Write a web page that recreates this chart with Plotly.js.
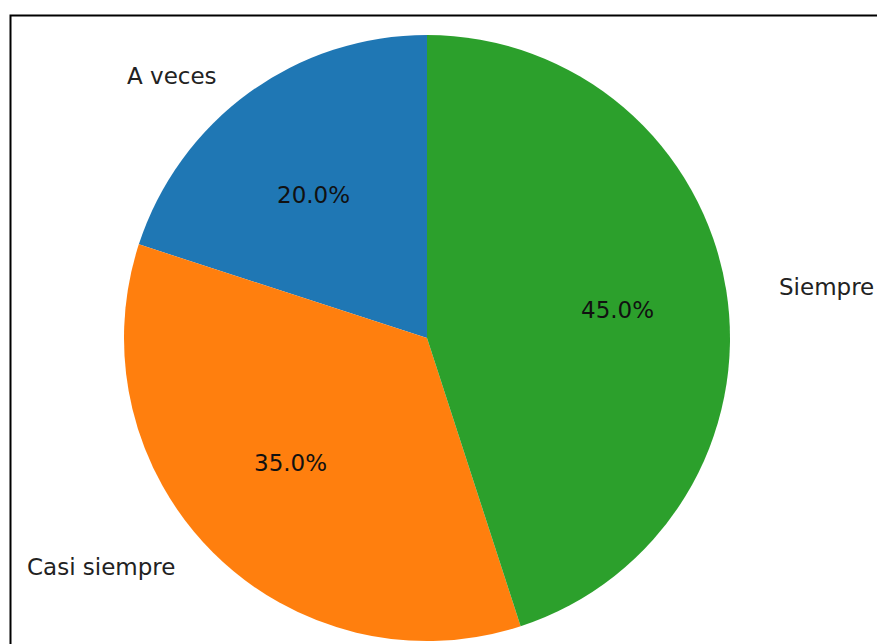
<!DOCTYPE html>
<html>
<head>
<meta charset="utf-8">
<script src="https://cdn.plot.ly/plotly-3.0.1.min.js"></script>
<style>html,body{margin:0;padding:0;background:#fff;}#chart{width:877px;height:644px;}</style>
</head>
<body>
<div id="chart"></div>
<script>
// Data
const labels = ['A veces', 'Casi siempre', 'Siempre'];
const values = [20, 35, 45];
const colors = ['#1f77b4', '#ff7f0e', '#2ca02c'];

// Geometry (pixels)
const W = 877, H = 644;
const cx = 427, cy = 338;      // pie centre
const r = 303;                 // drawn pie radius
const rx = 322, ry = 294;      // text placement radii (matplotlib style)

const total = values.reduce((a, b) => a + b, 0);
const annotations = [];
let cum = 0;
values.forEach((v, i) => {
  const frac = v / total;
  const mid = (90 + 360 * (cum + frac / 2)) * Math.PI / 180;
  cum += frac;
  const c = Math.cos(mid), s = Math.sin(mid);
  annotations.push({
    x: (cx + 0.6 * rx * c) / W, y: 1 - (cy - 0.6 * ry * s) / H,
    xref: 'paper', yref: 'paper', showarrow: false,
    text: (100 * frac).toFixed(1) + '%',
    xanchor: 'center', yanchor: 'middle',
    font: {family: 'DejaVu Sans', size: 23, color: '#111'}
  });
  annotations.push({
    x: (cx + 1.1 * rx * c) / W, y: 1 - (cy - 1.1 * ry * s) / H,
    xref: 'paper', yref: 'paper', showarrow: false,
    text: labels[i],
    xanchor: c >= 0 ? 'left' : 'right', yanchor: 'middle',
    font: {family: 'DejaVu Sans', size: 23, color: '#222'}
  });
});

const trace = {
  type: 'pie',
  labels: labels,
  values: values,
  sort: false,
  direction: 'counterclockwise',
  rotation: -360 * values[0] / total,
  marker: {colors: colors, line: {width: 0}},
  textinfo: 'none',
  hoverinfo: 'label+percent',
  showlegend: false,
  domain: {
    x: [(cx - r) / W, (cx + r) / W],
    y: [1 - (cy + r) / H, 1 - (cy - r) / H]
  }
};

const layout = {
  width: W, height: H,
  margin: {l: 0, r: 0, t: 0, b: 0},
  paper_bgcolor: '#ffffff',
  showlegend: false,
  annotations: annotations,
  shapes: [{
    type: 'rect', xref: 'paper', yref: 'paper',
    x0: 10.5 / W, x1: 1.05, y0: -0.05, y1: 1 - 15.5 / H,
    line: {color: '#000', width: 2}, fillcolor: 'rgba(0,0,0,0)', layer: 'above'
  }]
};

Plotly.newPlot('chart', [trace], layout, {displayModeBar: false, staticPlot: true});
</script>
</body>
</html>
